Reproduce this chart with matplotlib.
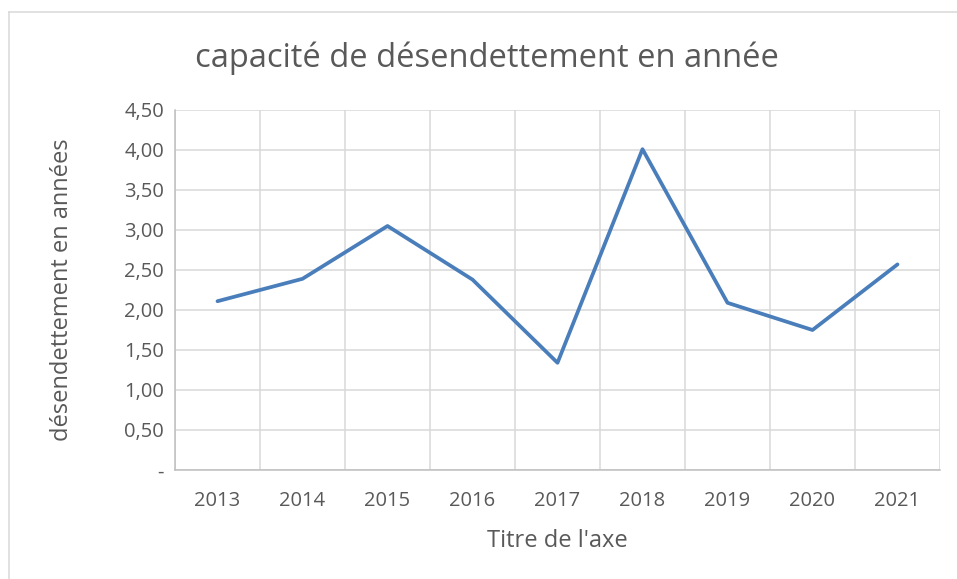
import matplotlib
matplotlib.use('Agg')
import matplotlib.pyplot as plt
from matplotlib.ticker import FixedLocator, FuncFormatter

plt.rcParams['font.family'] = ['Open Sans', 'DejaVu Sans']

# data
years = ['2013', '2014', '2015', '2016', '2017', '2018', '2019', '2020', '2021']
capacite = [2.11, 2.39, 3.05, 2.38, 1.34, 4.01, 2.09, 1.75, 2.57]
y_ticks = [0, 0.5, 1.0, 1.5, 2.0, 2.5, 3.0, 3.5, 4.0, 4.5]

txt_col = '#595959'
grid_col = '#d9d9d9'

W, H = 957, 579
fig = plt.figure(figsize=(W / 100, H / 100), dpi=100)
ax = fig.add_axes([175 / W, 1 - 470 / H, (940 - 175) / W, (470 - 110) / H])

x = list(range(len(years)))
ax.plot(x, capacite, color='#4a7ebb', lw=2.7, solid_capstyle='round', zorder=3)

ax.set_xlim(-0.5, len(years) - 0.5)
ax.set_ylim(0, 4.5)
ax.set_xticks(x)
ax.set_xticklabels(years)
ax.xaxis.set_minor_locator(FixedLocator([i - 0.5 for i in range(len(years) + 1)]))
ax.set_yticks(y_ticks)
ax.yaxis.set_major_formatter(FuncFormatter(
    lambda v, p: '-' if v == 0 else f'{v:.2f}'.replace('.', ',')))

ax.grid(which='minor', axis='x', color=grid_col, lw=1.1)
ax.grid(which='major', axis='y', color=grid_col, lw=1.1)
ax.tick_params(which='both', length=0, colors=txt_col, labelsize=14.5)
ax.tick_params(axis='x', pad=15)
ax.tick_params(axis='y', pad=8)
for s in ['top', 'right']:
    ax.spines[s].set_visible(False)
for s in ['left', 'bottom']:
    ax.spines[s].set_color('#bfbfbf')
    ax.spines[s].set_linewidth(1.1)

fig.text(487 / W, 1 - 58 / H, 'capacité de désendettement en année',
         ha='center', va='center', fontsize=23.5, color=txt_col)
fig.text(62 / W, 1 - 290 / H, 'désendettement en années', rotation=90,
         ha='center', va='center', fontsize=17, color=txt_col)
fig.text(557 / W, 1 - 541 / H, "Titre de l'axe",
         ha='center', va='center', fontsize=17, color=txt_col)

# chart area border
fig.add_artist(plt.Line2D([9 / W, 9 / W], [0, 1 - 12 / H], color=grid_col,
                          lw=1.1, transform=fig.transFigure))
fig.add_artist(plt.Line2D([9 / W, 1], [1 - 12 / H, 1 - 12 / H], color=grid_col,
                          lw=1.1, transform=fig.transFigure))

fig.savefig('out.png', dpi=100)
